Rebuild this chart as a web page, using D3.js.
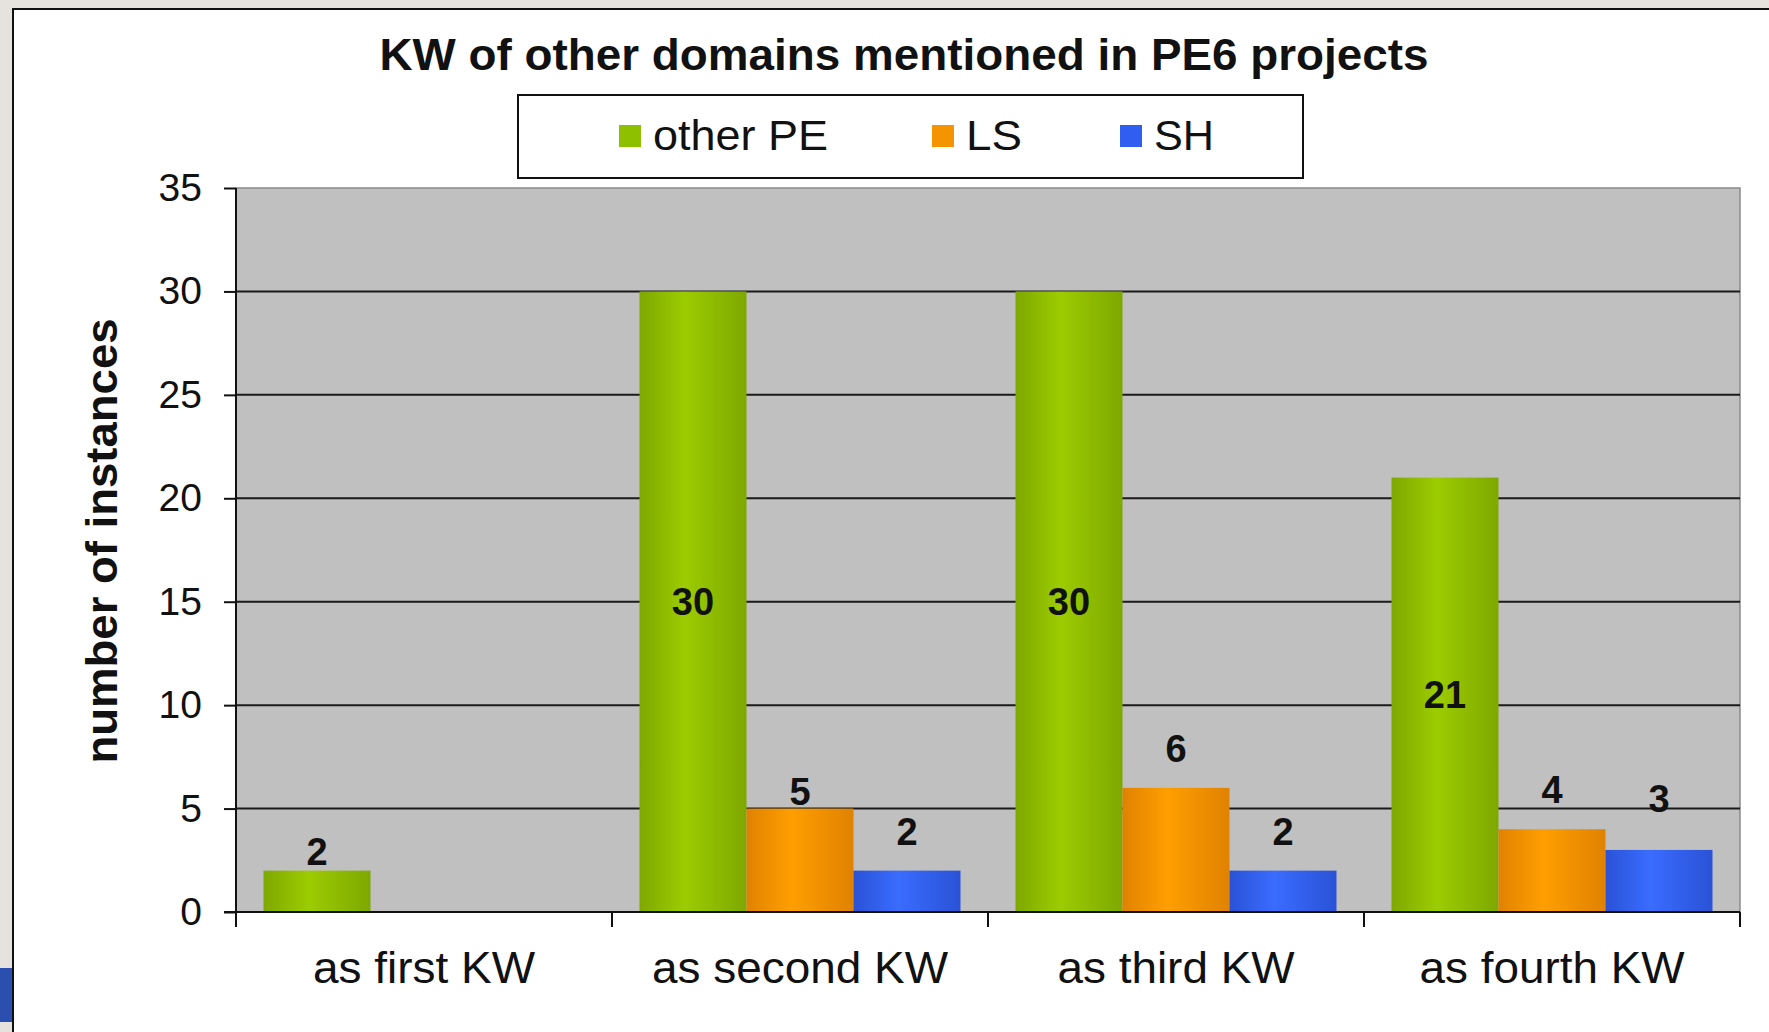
<!DOCTYPE html>
<html>
<head>
<meta charset="utf-8">
<script src="https://cdn.jsdelivr.net/npm/d3@7"></script>
<style>
  html, body { margin: 0; padding: 0; background: #e6e2de; }
  svg { display: block; }
  text { font-family: "Liberation Sans", Arial, Helvetica, sans-serif; fill: #000; }
</style>
</head>
<body>
<svg id="chart" width="1769" height="1032"></svg>
<script>
// ---------- data ----------
const title = "KW of other domains mentioned in PE6 projects";
const yLabel = "number of instances";
const categories = ["as first KW", "as second KW", "as third KW", "as fourth KW"];
const seriesNames = ["other PE", "LS", "SH"];
const otherPE = [2, 30, 30, 21];
const LS = [null, 5, 6, 4];
const SH = [null, 2, 2, 3];
const yTicks = [0, 5, 10, 15, 20, 25, 30, 35];

// ---------- styles ----------
const seriesColors = {
  "other PE": { edge: "#7ea800", mid: "#9ccc00", legend: "#8ec000" },
  "LS":       { edge: "#e08200", mid: "#ff9e00", legend: "#f49400" },
  "SH":       { edge: "#2a52d6", mid: "#3a6cff", legend: "#2f5ef0" }
};
const seriesValues = { "other PE": otherPE, "LS": LS, "SH": SH };
// hand-placed label gaps in the original (px above bar top), default 26
const labelGapOverride = { "other PE|as first KW": 6, "LS|as second KW": 4, "SH|as fourth KW": 38 };

const svg = d3.select("#chart");
const W = 1769, H = 1032;

// page frame
svg.append("rect").attr("x", 0).attr("y", 0).attr("width", W).attr("height", H).attr("fill", "#e6e2de");
svg.append("rect").attr("x", 0).attr("y", 968).attr("width", 13).attr("height", 54).attr("fill", "#2b4fae");
svg.append("rect").attr("x", 13).attr("y", 9).attr("width", W - 13).attr("height", H - 9).attr("fill", "#ffffff");
svg.append("line").attr("x1", 13).attr("x2", 13).attr("y1", 8).attr("y2", H).attr("stroke", "#111").attr("stroke-width", 2);
svg.append("line").attr("x1", 12).attr("x2", W).attr("y1", 9).attr("y2", 9).attr("stroke", "#111").attr("stroke-width", 2);

// gradients
const defs = svg.append("defs");
seriesNames.forEach((s, i) => {
  const g = defs.append("linearGradient").attr("id", "grad" + i)
    .attr("x1", "0%").attr("x2", "100%").attr("y1", "0%").attr("y2", "0%");
  g.append("stop").attr("offset", "0%").attr("stop-color", seriesColors[s].edge);
  g.append("stop").attr("offset", "42%").attr("stop-color", seriesColors[s].mid);
  g.append("stop").attr("offset", "100%").attr("stop-color", seriesColors[s].edge);
});

// plot geometry
const plot = { left: 236, right: 1740, top: 188, bottom: 912 };

const x0 = d3.scaleBand().domain(categories).range([plot.left, plot.right]).paddingInner(0).paddingOuter(0);
const x1 = d3.scaleBand().domain(seriesNames).range([0, x0.bandwidth()]).paddingInner(0).paddingOuter(0.257);
const y = d3.scaleLinear().domain([0, 35]).range([plot.bottom, plot.top]);

// plot background
svg.append("rect")
  .attr("x", plot.left).attr("y", plot.top)
  .attr("width", plot.right - plot.left).attr("height", plot.bottom - plot.top)
  .attr("fill", "#c0c0c0").attr("stroke", "#8a8a8a").attr("stroke-width", 1.5);

// gridlines
svg.append("g").selectAll("line")
  .data(yTicks.filter(t => t > 0 && t < 35))
  .join("line")
  .attr("x1", plot.left).attr("x2", plot.right)
  .attr("y1", d => y(d)).attr("y2", d => y(d))
  .attr("stroke", "#1a1a1a").attr("stroke-width", 2);

// bars
const barData = [];
categories.forEach((c, ci) => {
  seriesNames.forEach((s, si) => {
    const v = seriesValues[s][ci];
    if (v !== null && v !== undefined) barData.push({ cat: c, series: s, si, value: v });
  });
});

svg.append("g").selectAll("rect")
  .data(barData)
  .join("rect")
  .attr("x", d => x0(d.cat) + x1(d.series))
  .attr("y", d => y(d.value))
  .attr("width", x1.bandwidth())
  .attr("height", d => y(0) - y(d.value))
  .attr("fill", d => "url(#grad" + d.si + ")");

// value labels
svg.append("g").selectAll("text")
  .data(barData)
  .join("text")
  .attr("x", d => x0(d.cat) + x1(d.series) + x1.bandwidth() / 2)
  .attr("y", d => {
    const top = y(d.value);
    const h = y(0) - top;
    if (d.series === "other PE" && h > 80) return top + h / 2 + 13;
    const key = d.series + "|" + d.cat;
    const gap = labelGapOverride[key] !== undefined ? labelGapOverride[key] : 26;
    return top - gap;
  })
  .attr("text-anchor", "middle")
  .attr("font-size", 38)
  .attr("font-weight", "bold")
  .style("fill", "#111")
  .text(d => d.value);

// y axis
const yAxis = d3.axisLeft(y).tickValues(yTicks).tickSize(12).tickPadding(22).tickFormat(d3.format("d"));
const gy = svg.append("g").attr("transform", `translate(${plot.left},0)`).call(yAxis);
gy.select(".domain").remove();
gy.selectAll(".tick line").attr("stroke", "#111").attr("stroke-width", 2);
gy.selectAll(".tick text").attr("font-size", 39).attr("font-family", "Liberation Sans, Arial, sans-serif").style("fill", "#111");
svg.append("line").attr("x1", plot.left).attr("x2", plot.left)
  .attr("y1", plot.top).attr("y2", plot.bottom + 15).attr("stroke", "#111").attr("stroke-width", 2);

// x axis
svg.append("line").attr("x1", plot.left - 12).attr("x2", plot.right)
  .attr("y1", plot.bottom).attr("y2", plot.bottom).attr("stroke", "#111").attr("stroke-width", 2);
const boundaries = categories.map(c => x0(c)).concat([x0(categories[categories.length - 1]) + x0.bandwidth()]);
svg.append("g").selectAll("line").data(boundaries).join("line")
  .attr("x1", d => d).attr("x2", d => d)
  .attr("y1", plot.bottom).attr("y2", plot.bottom + 15)
  .attr("stroke", "#111").attr("stroke-width", 2);
const catWidths = { "as first KW": 222, "as second KW": 296, "as third KW": 237, "as fourth KW": 265 };
svg.append("g").selectAll("text").data(categories).join("text")
  .attr("x", d => x0(d) + x0.bandwidth() / 2)
  .attr("y", 983)
  .attr("text-anchor", "middle")
  .attr("font-size", 45)
  .attr("textLength", d => catWidths[d])
  .attr("lengthAdjust", "spacingAndGlyphs")
  .style("fill", "#111")
  .text(d => d);

// y label
svg.append("text")
  .attr("transform", "translate(117,541) rotate(-90)")
  .attr("text-anchor", "middle")
  .attr("font-size", 44)
  .attr("font-weight", "bold")
  .attr("textLength", 445)
  .attr("lengthAdjust", "spacingAndGlyphs")
  .style("fill", "#111")
  .text(yLabel);

// title
svg.append("text")
  .attr("x", 904).attr("y", 70)
  .attr("text-anchor", "middle")
  .attr("font-size", 44)
  .attr("font-weight", "bold")
  .attr("textLength", 1049)
  .attr("lengthAdjust", "spacingAndGlyphs")
  .style("fill", "#111")
  .text(title);

// legend
svg.append("rect").attr("x", 518).attr("y", 95).attr("width", 785).attr("height", 83)
  .attr("fill", "#fff").attr("stroke", "#111").attr("stroke-width", 2);
const legendX = { "other PE": 619, "LS": 932, "SH": 1120 };
const legendW = { "other PE": 175, "LS": 56, "SH": 60 };
const lg = svg.append("g").selectAll("g").data(seriesNames).join("g");
lg.append("rect")
  .attr("x", d => legendX[d]).attr("y", 125)
  .attr("width", 22).attr("height", 22)
  .attr("fill", d => seriesColors[d].legend);
lg.append("text")
  .attr("x", d => legendX[d] + 34).attr("y", 150)
  .attr("font-size", 43)
  .attr("textLength", d => legendW[d])
  .attr("lengthAdjust", "spacingAndGlyphs")
  .style("fill", "#111")
  .text(d => d);
</script>
</body>
</html>
